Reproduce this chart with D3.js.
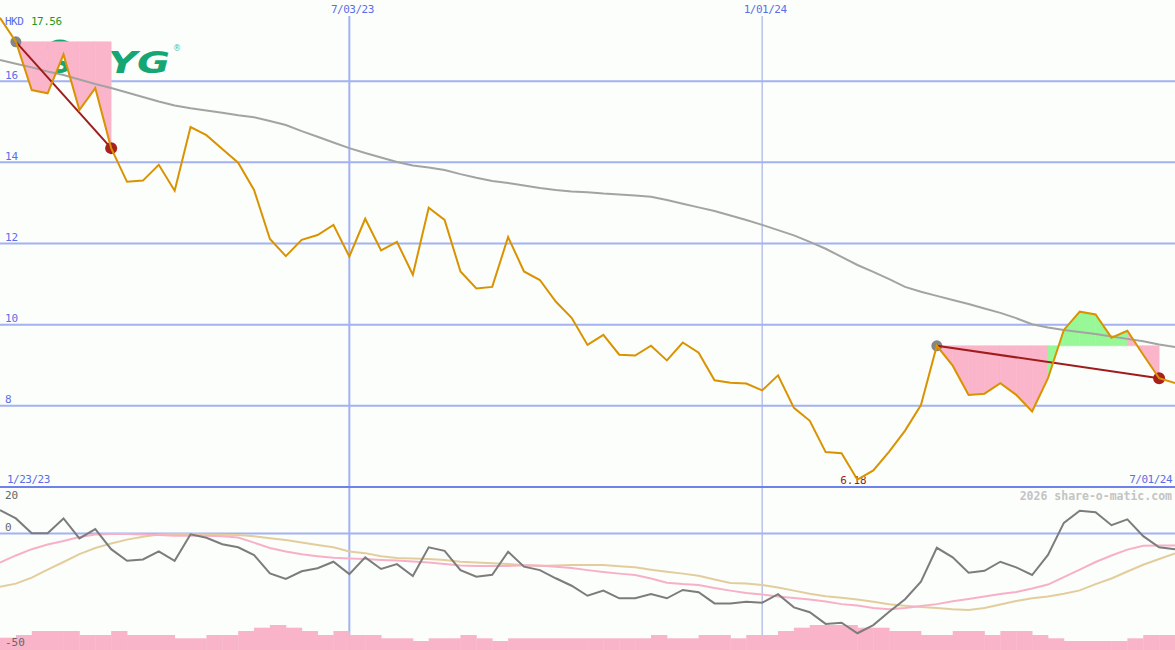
<!DOCTYPE html>
<html><head><meta charset="utf-8">
<script src="https://cdn.jsdelivr.net/npm/d3@7"></script>
<style>html,body{margin:0;padding:0;background:#fbfefb;overflow:hidden}</style>
</head><body>
<svg id="c" width="1175" height="650"></svg>
<script>
// ---------- data ----------
const startDate = new Date(2023, 0, 30);
const endDate = new Date(2024, 6, 1);
const weeks = d3.timeMonday.range(startDate, d3.timeDay.offset(endDate, 1)); // 75 weekly dates

const price = [17.56, 16.97, 15.78, 15.70, 16.66, 15.29, 15.83, 14.35, 13.52, 13.55,
  13.94, 13.30, 14.87, 14.67, 14.33, 13.99, 13.32, 12.11, 11.69, 12.09,
  12.21, 12.46, 11.68, 12.61, 11.83, 12.04, 11.23, 12.88, 12.58, 11.31,
  10.89, 10.93, 12.16, 11.31, 11.10, 10.57, 10.17, 9.50, 9.75, 9.26,
  9.24, 9.48, 9.12, 9.56, 9.31, 8.63, 8.57, 8.55, 8.38, 8.75,
  7.95, 7.63, 6.86, 6.83, 6.18, 6.41, 6.87, 7.39, 8.02, 9.48,
  8.99, 8.27, 8.30, 8.56, 8.27, 7.86, 8.68, 9.87, 10.32, 10.25,
  9.68, 9.85, 9.26, 8.68, 8.56];

const movingAvg = [16.52, 16.43, 16.34, 16.24, 16.15, 16.04, 15.93, 15.83, 15.72, 15.61,
  15.50, 15.40, 15.33, 15.28, 15.22, 15.16, 15.11, 15.02, 14.92, 14.77,
  14.63, 14.49, 14.35, 14.23, 14.12, 14.01, 13.92, 13.87, 13.81, 13.71,
  13.62, 13.54, 13.49, 13.43, 13.37, 13.32, 13.28, 13.26, 13.23, 13.21,
  13.18, 13.15, 13.07, 12.98, 12.89, 12.80, 12.69, 12.58, 12.46, 12.33,
  12.20, 12.04, 11.87, 11.67, 11.47, 11.30, 11.12, 10.93, 10.81, 10.71,
  10.61, 10.51, 10.40, 10.29, 10.16, 10.01, 9.93, 9.87, 9.82, 9.77,
  9.71, 9.65, 9.59, 9.51, 9.45];

const oscGray = [10.1, 6.5, 0.1, 0.1, 6.5, -2.1, 1.9, -6.7, -11.7, -11.1,
  -7.6, -11.7, -0.3, -1.8, -4.6, -5.9, -9.2, -17.1, -19.5, -16.2,
  -14.9, -12.1, -17.4, -10.2, -15.2, -13.1, -18.2, -5.9, -7.4, -15.7,
  -18.5, -17.7, -7.8, -14.2, -15.7, -19.2, -22.4, -26.7, -24.5, -27.8,
  -27.8, -26.0, -27.8, -24.2, -25.2, -30.0, -30.0, -29.3, -29.7, -26.0,
  -31.7, -33.8, -38.8, -38.3, -42.8, -39.3, -33.6, -28.2, -20.7, -6.1,
  -10.2, -16.8, -16.0, -12.1, -14.5, -17.8, -9.2, 4.6, 9.8, 9.2,
  3.6, 6.1, -1.1, -5.9, -6.7];

const oscPink = [-12.5, -9.4, -6.7, -4.7, -3.2, -1.5, -0.4, -0.2, -0.2, -0.4,
  -0.6, -0.9, -0.9, -0.9, -1.1, -1.7, -3.9, -6.2, -7.7, -8.9,
  -9.7, -10.4, -10.7, -10.9, -11.3, -11.6, -12.0, -12.4, -13.1, -13.7,
  -13.9, -13.9, -13.9, -13.6, -13.7, -14.2, -14.8, -15.7, -16.5, -17.2,
  -17.8, -19.3, -21.1, -21.7, -22.1, -23.4, -24.5, -25.5, -26.2, -27.0,
  -27.7, -28.3, -29.2, -30.3, -30.9, -32.0, -32.5, -32.0, -31.1, -30.3,
  -29.1, -28.1, -27.0, -26.0, -25.1, -23.6, -21.9, -18.7, -15.5, -12.2,
  -9.4, -6.9, -5.2, -5.1, -5.1];

const oscTan = [-22.8, -21.5, -18.9, -15.5, -12.2, -8.8, -6.2, -4.3, -2.6, -1.4,
  -0.4, -0.3, -0.3, -0.4, -0.5, -0.6, -1.2, -2.0, -2.8, -3.8,
  -4.9, -5.9, -7.7, -8.4, -9.7, -10.5, -10.7, -10.9, -11.4, -12.1,
  -12.4, -12.7, -13.1, -13.6, -13.9, -13.7, -13.5, -13.5, -13.5, -14.0,
  -14.5, -15.5, -16.4, -17.2, -18.1, -19.7, -21.2, -21.4, -22.1, -23.2,
  -24.5, -25.8, -26.9, -27.6, -28.3, -29.3, -30.4, -31.0, -31.5, -32.0,
  -32.5, -32.8, -32.0, -30.5, -29.0, -27.8, -27.0, -25.8, -24.4, -21.7,
  -19.3, -16.3, -13.4, -10.9, -8.5];

const volume = [12.3, 15, 19, 19, 19, 15, 15, 19, 15, 15,
  15, 11.7, 11.7, 15, 15, 19, 22.3, 25, 22.3, 19,
  15, 19, 15, 15, 11.7, 11.7, 9, 11.7, 11.7, 15,
  11.7, 9, 11.7, 11.7, 11.7, 11.7, 11.7, 11.7, 11.7, 11.7,
  11.7, 15, 11.7, 11.7, 15, 15, 11.7, 15, 15, 19,
  22.3, 25, 25, 25, 22.3, 22.3, 19, 19, 15, 15,
  19, 19, 15, 19, 19, 15, 11.7, 9, 9, 9,
  9, 11.7, 15, 15];

const priceTicks = [8, 10, 12, 14, 16];
const oscTicks = [20, 0, -50];
const dateTickDates = [new Date(2023, 6, 3), new Date(2024, 0, 1)];
const dateTickLabels = ["7/03/23", "1/01/24"];
const trendStart = [1, 59];
const trendEnd = [7, 73];
const currency = "HKD";
const firstPriceLabel = "17.56";
const lowLabel = "6.18";

// ---------- scales ----------
const W = 1175, H = 650;
const x = d3.scaleTime().domain([startDate, endDate]).range([0, W]);
const y = d3.scaleLinear().domain([6, 18]).range([487, 0]);
const yo = d3.scaleLinear().domain([-50, 20]).range([650, 487]);
const yv = d3.scaleLinear().domain([0, 100]).range([650, 550]);

const svg = d3.select("#c");
const font = "'DejaVu Sans Mono', monospace";
const blueTxt = "#5a6ee8";
const grid = "#a4b1f2";

svg.append("rect").attr("width", W).attr("height", H).attr("fill", "#fbfefb");

// vertical date lines
svg.selectAll("line.vd").data(dateTickDates).join("line")
  .attr("x1", d => x(d)).attr("x2", d => x(d)).attr("y1", 16).attr("y2", H)
  .attr("stroke", (d, i) => i === 0 ? grid : "#aab3e6").attr("stroke-width", (d, i) => i === 0 ? 2 : 1.2);

// horizontal price grid
svg.selectAll("line.hp").data(priceTicks).join("line")
  .attr("x1", 0).attr("x2", W).attr("y1", d => y(d)).attr("y2", d => y(d))
  .attr("stroke", grid).attr("stroke-width", 2);
// osc zero line
svg.append("line").attr("x1", 0).attr("x2", W).attr("y1", yo(0)).attr("y2", yo(0))
  .attr("stroke", grid).attr("stroke-width", 2);

// volume bars
svg.selectAll("rect.vol").data(volume).join("rect")
  .attr("x", (d, i) => x(weeks[i]))
  .attr("width", (d, i) => x(weeks[i + 1]) - x(weeks[i]) + 0.4)
  .attr("y", d => yv(d)).attr("height", d => H - yv(d))
  .attr("fill", "#f9b4c9");

// oscillator lines
const oline = d3.line().x((d, i) => x(weeks[i])).y(d => yo(d));
svg.append("path").attr("d", oline(oscTan)).attr("fill", "none").attr("stroke", "#e3cd9d").attr("stroke-width", 2);
svg.append("path").attr("d", oline(oscPink)).attr("fill", "none").attr("stroke", "#f8b0c8").attr("stroke-width", 2);
svg.append("path").attr("d", oline(oscGray)).attr("fill", "none").attr("stroke", "#7c7c7c").attr("stroke-width", 2);

// bottom border of price panel
svg.append("line").attr("x1", 0).attr("x2", W).attr("y1", y(6)).attr("y2", y(6))
  .attr("stroke", "#6f82ec").attr("stroke-width", 2);

// logo
const logo = svg.append("g");
logo.append("ellipse").attr("cx", 60).attr("cy", 56).attr("rx", 16).attr("ry", 15)
  .attr("fill", "none").attr("stroke", "#14a673").attr("stroke-width", 3);
logo.append("text").attr("x", 52).attr("y", 73).text("S")
  .attr("font-family", "'DejaVu Sans'").attr("font-weight", "bold").attr("font-style", "italic")
  .attr("font-size", 26).attr("fill", "#14a673");
logo.append("text").attr("x", 108).attr("y", 73).text("YG")
  .attr("font-family", "'DejaVu Sans'").attr("font-weight", "bold").attr("font-style", "italic")
  .attr("font-size", 31).attr("textLength", 62).attr("lengthAdjust", "spacingAndGlyphs").attr("fill", "#14a673");
logo.append("text").attr("x", 173).attr("y", 51).text("®")
  .attr("font-family", "'DejaVu Sans'").attr("font-size", 8).attr("fill", "#5cbf95");

// trend fills
trendStart.forEach((s, k) => {
  const e = trendEnd[k];
  const level = price[s];
  for (let i = s; i < e; i++) {
    const pts = [[x(weeks[i]), y(level)], [x(weeks[i]), y(price[i])],
                 [x(weeks[i + 1]), y(price[i + 1])], [x(weeks[i + 1]), y(level)]];
    svg.append("path").attr("d", "M" + pts.join("L") + "Z")
      .attr("fill", price[i + 1] > level ? "#98f898" : "#fab5ca")
      .attr("stroke", price[i + 1] > level ? "#98f898" : "#fab5ca").attr("stroke-width", 0.6);
  }
});

// moving average
const pline = d3.line().x((d, i) => x(weeks[i])).y(d => y(d));
svg.append("path").attr("d", pline(movingAvg)).attr("fill", "none").attr("stroke", "#a3a3a3").attr("stroke-width", 2);

// trend dots & lines
trendStart.forEach((s, k) => {
  const e = trendEnd[k];
  svg.append("circle").attr("cx", x(weeks[s])).attr("cy", y(price[s])).attr("r", 5.5).attr("fill", "#858585");
  svg.append("circle").attr("cx", x(weeks[e])).attr("cy", y(price[e])).attr("r", 6).attr("fill", "#a82020");
  svg.append("line").attr("x1", x(weeks[s])).attr("y1", y(price[s]))
    .attr("x2", x(weeks[e])).attr("y2", y(price[e]))
    .attr("stroke", "#a01c1c").attr("stroke-width", 2);
});

// low label
const lowIdx = price.indexOf(d3.min(price));
svg.append("text").attr("x", x(weeks[lowIdx]) - 4).attr("y", 484).attr("text-anchor", "middle")
  .text(lowLabel).attr("font-family", font).attr("font-size", 11).attr("fill", "#a01c1c");

// price line
svg.append("path").attr("d", pline(price)).attr("fill", "none").attr("stroke", "#da9300").attr("stroke-width", 2);

// price labels
svg.selectAll("text.pl").data(priceTicks).join("text")
  .attr("x", 5).attr("y", d => y(d) - 2.5).text(d => d)
  .attr("font-family", font).attr("font-size", 11).attr("fill", blueTxt);

// osc labels
const oscLabelY = v => v === 20 ? yo(v) + 12 : (v === -50 ? yo(v) - 4 : yo(v) - 2.5);
svg.selectAll("text.ol").data(oscTicks).join("text")
  .attr("x", 5).attr("y", d => oscLabelY(d)).text(d => d)
  .attr("font-family", font).attr("font-size", 11).attr("fill", "#666");

// date labels
svg.selectAll("text.dl").data(dateTickDates).join("text")
  .attr("x", d => x(d) + 3).attr("y", 13).attr("text-anchor", "middle")
  .text((d, i) => dateTickLabels[i])
  .attr("font-family", font).attr("font-size", 11).attr("letter-spacing", -0.5).attr("fill", blueTxt);

svg.append("text").attr("x", 7).attr("y", 483).text(d3.timeFormat("%-m/%d/%y")(d3.timeMonday.offset(startDate, -1)))
  .attr("font-family", font).attr("font-size", 11).attr("letter-spacing", -0.5).attr("fill", blueTxt);
svg.append("text").attr("x", 1172).attr("y", 483).attr("text-anchor", "end").text(d3.timeFormat("%-m/%d/%y")(endDate))
  .attr("font-family", font).attr("font-size", 11).attr("letter-spacing", -0.5).attr("fill", blueTxt);

// header
svg.append("text").attr("x", 5).attr("y", 25).text(currency)
  .attr("font-family", font).attr("font-size", 11).attr("letter-spacing", -0.5).attr("fill", blueTxt);
svg.append("text").attr("x", 31).attr("y", 25).text(firstPriceLabel)
  .attr("font-family", font).attr("font-size", 11).attr("letter-spacing", -0.5).attr("fill", "#1f9a1f");

// watermark
svg.append("text").attr("x", 1172).attr("y", 500).attr("text-anchor", "end").text("2026 share-o-matic.com")
  .attr("font-family", font).attr("font-weight", "bold").attr("font-size", 11.5).attr("fill", "#c4c4c4");
</script>
</body></html>
